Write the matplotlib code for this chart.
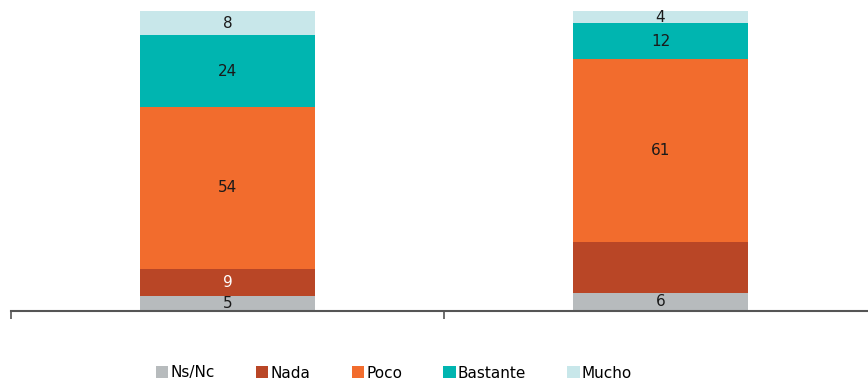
import matplotlib.pyplot as plt
from matplotlib.patches import Patch

groups = ["A", "B"]
categories = ["Ns/Nc", "Nada", "Poco", "Bastante", "Mucho"]
colors = ["#B7BBBD", "#B94626", "#F26C2D", "#00B5B0", "#C8E7EA"]
values = {
    "Ns/Nc": [5, 6],
    "Nada": [9, 17],
    "Poco": [54, 61],
    "Bastante": [24, 12],
    "Mucho": [8, 4],
}
# which segments carry a value label
show_label = {
    "Ns/Nc": [True, True],
    "Nada": [True, False],
    "Poco": [True, True],
    "Bastante": [True, True],
    "Mucho": [True, True],
}
label_colors = {"Nada": "white"}

plt.rcParams['font.family'] = ['DejaVu Sans']

fig = plt.figure(figsize=(8.68, 3.83), dpi=100)
ax = fig.add_axes([11 / 868, 72 / 383, 866 / 868, 300 / 383])

x = list(range(len(groups)))
bottoms = [0] * len(groups)
for cat, col in zip(categories, colors):
    vals = values[cat]
    ax.bar(x, vals, bottom=bottoms, width=0.402, color=col, linewidth=0)
    for i, v in enumerate(vals):
        if show_label[cat][i]:
            ax.text(x[i], bottoms[i] + v / 2, str(v), ha="center", va="center",
                    fontsize=11, color=label_colors.get(cat, "#1a1a1a"))
    bottoms = [b + v for b, v in zip(bottoms, vals)]

ax.set_xlim(-0.5, 1.5)
ax.set_ylim(0, 100)
ax.set_xticks([-0.5, 0.5, 1.5])
ax.set_xticklabels([])
ax.tick_params(axis="x", direction="out", length=6, width=1.2, color="#555555")
ax.set_yticks([])
for side in ["top", "right", "left"]:
    ax.spines[side].set_visible(False)
ax.spines["bottom"].set_color("#555555")
ax.spines["bottom"].set_linewidth(1.5)

handles = [Patch(facecolor=c, edgecolor="none") for c in colors]
fig.legend(handles, categories, loc="center", bbox_to_anchor=(394 / 868, 1 - 373 / 383),
           ncol=5, frameon=False, fontsize=11, handlelength=0.8, handleheight=0.8,
           handletextpad=0.15, columnspacing=2.7)

fig.savefig("out.png", dpi=100)
